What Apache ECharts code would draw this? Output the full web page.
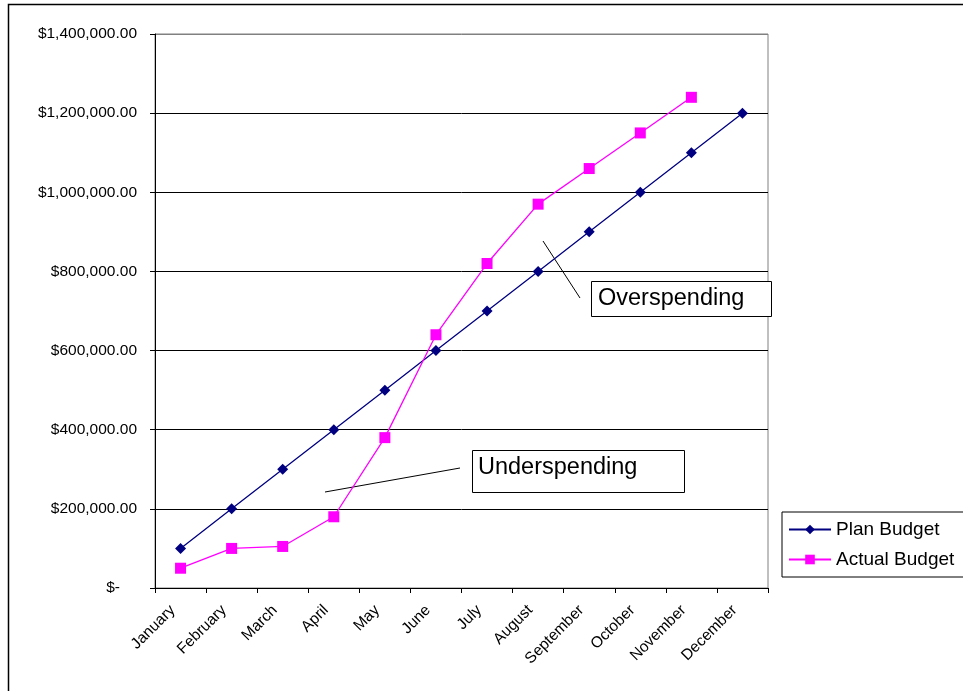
<!DOCTYPE html>
<html><head><meta charset="utf-8">
<script src="https://cdn.jsdelivr.net/npm/echarts@6/dist/echarts.min.js"></script>
<style>html,body{margin:0;padding:0;background:#fff}#c{width:963px;height:691px}</style>
</head><body><div id="c"></div>
<script>
const months = ['January','February','March','April','May','June','July','August','September','October','November','December'];
const planBudget = [100000,200000,300000,400000,500000,600000,700000,800000,900000,1000000,1100000,1200000];
const actualBudget = [50000,100000,105000,180000,380000,640000,820000,970000,1060000,1150000,1240000,null];
const seriesNames = ['Plan Budget','Actual Budget'];

const chart = echarts.init(document.getElementById('c'), null, {renderer:'canvas'});
const font = 'Liberation Sans, Arial, sans-serif';
function fmt(v){
  if (v === 0) return '{z|$-}';
  return '$' + v.toLocaleString('en-US',{minimumFractionDigits:2, maximumFractionDigits:2});
}
chart.setOption({
  animation:false,
  backgroundColor:'#fff',
  grid:{left:155, top:34, width:613, height:554, show:true, borderColor:'#808080', borderWidth:1},
  xAxis:{
    type:'category', data:months, boundaryGap:true,
    axisLine:{lineStyle:{color:'#000', width:1}},
    axisTick:{show:true, length:5, lineStyle:{color:'#000'}},
    axisLabel:{rotate:45, color:'#000', fontFamily:font, fontSize:15.5, margin:12, interval:0,
      formatter: v => '{m|' + v + '}',
      rich:{m:{fontFamily:font, fontSize:15.5, color:'#000', padding:[0,11,0,0]}}}
  },
  yAxis:{
    type:'value', min:0, max:1400000, interval:200000,
    axisLine:{show:true, lineStyle:{color:'#000', width:1}},
    axisTick:{show:true, length:5, lineStyle:{color:'#000'}},
    axisLabel:{color:'#000', fontFamily:font, fontSize:15.5, margin:18, formatter:fmt,
      rich:{z:{fontFamily:font, fontSize:15.5, color:'#000', padding:[0,17,0,0]}}},
    splitLine:{show:true, lineStyle:{color:['#000','#000','#000','#000','#000','#000','#000','#808080'], width:1}}
  },
  legend:{
    orient:'vertical', left:782, top:512, itemWidth:42, itemHeight:12, itemGap:11,
    padding:[8,10,8,6], borderColor:'#000', borderWidth:1,
    textStyle:{fontFamily:font, fontSize:19, color:'#000'},
    data:seriesNames
  },
  series:[
    {name:seriesNames[0], type:'line', data:planBudget, symbol:'diamond', symbolSize:11,
      lineStyle:{color:'#000080', width:1.3}, itemStyle:{color:'#000080'}},
    {name:seriesNames[1], type:'line', data:actualBudget, symbol:'rect', symbolSize:11,
      lineStyle:{color:'#FF00FF', width:1.3}, itemStyle:{color:'#FF00FF'}}
  ],
  graphic:[
    {type:'rect', shape:{x:8.5, y:4.5, width:1000, height:1000}, style:{fill:null, stroke:'#000', lineWidth:1.5}, silent:true},
    {type:'line', shape:{x1:543, y1:241, x2:580, y2:298}, style:{stroke:'#000', lineWidth:1}},
    {type:'rect', shape:{x:591.5, y:281.5, width:180, height:35}, style:{fill:'#fff', stroke:'#000', lineWidth:1}},
    {type:'text', x:598, y:299, style:{text:'Overspending', fill:'#000', font:'23.5px '+font, verticalAlign:'middle'}},
    {type:'line', shape:{x1:325, y1:492, x2:460, y2:468}, style:{stroke:'#000', lineWidth:1}},
    {type:'rect', shape:{x:472.5, y:450.5, width:212, height:42}, style:{fill:'#fff', stroke:'#000', lineWidth:1}},
    {type:'text', x:478, y:468, style:{text:'Underspending', fill:'#000', font:'23.5px '+font, verticalAlign:'middle'}}
  ]
});
</script></body></html>
